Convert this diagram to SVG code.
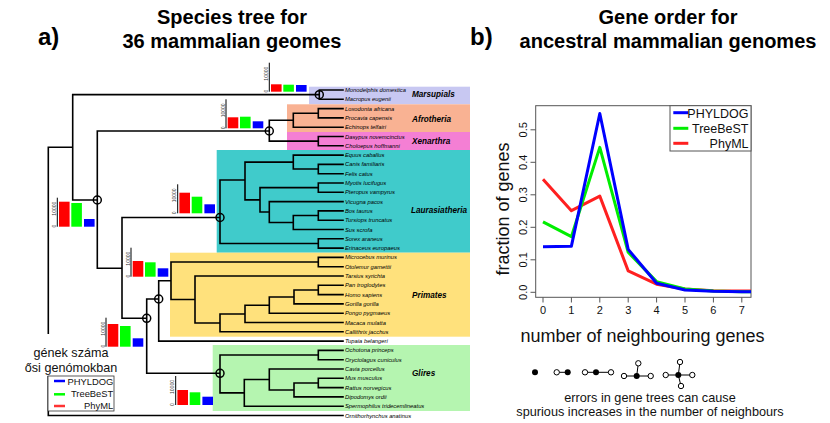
<svg xmlns="http://www.w3.org/2000/svg" width="830" height="423" viewBox="0 0 830 423">
<style>
.br{fill:none;stroke:#000;stroke-width:1.6;stroke-linecap:square}
.nd{fill:none;stroke:#000;stroke-width:1.5}
.tip{font-family:"Liberation Sans",Arial,sans-serif;font-style:italic;font-size:5.8px;fill:#000}
.cl{font-family:"Liberation Sans",Arial,sans-serif;font-style:italic;font-weight:bold;font-size:8.2px;fill:#000}
.ttl{font-family:"Liberation Sans",Arial,sans-serif;font-weight:bold;font-size:20px;fill:#000;text-anchor:middle}
.lab{font-family:"Liberation Sans",Arial,sans-serif;font-weight:bold;font-size:24px;fill:#000}
.ax{font-family:"Liberation Sans",Arial,sans-serif;font-size:5px;fill:#333;text-anchor:middle}
.sans{font-family:"Liberation Sans",Arial,sans-serif;fill:#111}
.r{fill:#ff0000}.g{fill:#00ff00}.b{fill:#0000ff}
.axl{stroke:#000;stroke-width:1}
.op{fill:#fff;stroke:#000;stroke-width:1}
.fd{fill:#000}
</style>

<text class="lab" x="38" y="45">a)</text>
<text class="ttl" x="232" y="24">Species tree for</text>
<text class="ttl" x="232" y="48">36 mammalian geomes</text>
<text class="lab" x="470" y="45">b)</text>
<text class="ttl" x="668" y="24">Gene order for</text>
<text class="ttl" x="668" y="48">ancestral mammalian genomes</text>

<g id="clade-boxes">
<rect x="309" y="86.7" width="161" height="17.6" fill="#c8c8f2"/>
<rect x="287" y="104.3" width="183" height="27.7" fill="#f9b293"/>
<rect x="287" y="132" width="183" height="18" fill="#f47fd4"/>
<rect x="216.7" y="150" width="253.3" height="102.7" fill="#40cbcb"/>
<rect x="170" y="252.7" width="300" height="84" fill="#ffe17c"/>
<rect x="212.7" y="345" width="257.3" height="66" fill="#b5f5b0"/>
</g>

<g id="branches">
<path class="br" d="M48.3,147.3V415.5M48.3,147.3H72.7M48.3,415.5H343
M72.7,94.65V200M72.7,94.65H319.3M72.7,200H97.3
M319.3,90V99.3M319.3,90H343M319.3,99.3H343
M97.3,131V268.3M97.3,131H269.3M97.3,268.3H122
M269.3,120.2V141.15M269.3,120.2H293.3M269.3,141.15H318.3
M293.3,113.25V127.2M293.3,113.25H318.3M293.3,127.2H343
M318.3,108.6V117.9M318.3,108.6H343M318.3,117.9H343
M318.3,136.5V145.8M318.3,136.5H343M318.3,145.8H343
M122,217.5V318.3M122,217.5H220M122,318.3H146.7
M220,180V243.45M220,180H245M220,243.45H318.3
M318.3,238.8V248.1M318.3,238.8H343M318.3,248.1H343
M245,162.1V199.85M245,162.1H293.3M245,199.85H260
M293.3,155.1V169.05M293.3,155.1H343M293.3,169.05H318.3
M318.3,164.4V173.7M318.3,164.4H343M318.3,173.7H343
M260,187.65V212.05M260,187.65H318.3M260,212.05H269.3
M318.3,183V192.3M318.3,183H343M318.3,192.3H343
M269.3,201.6V222.5M269.3,201.6H343M269.3,222.5H293.3
M293.3,215.55V229.5M293.3,215.55H318.3M293.3,229.5H343
M318.3,210.9V220.2M318.3,210.9H343M318.3,220.2H343
M146.7,299V373.3M146.7,299H158.7M146.7,373.3H220
M158.7,280.75V341.1M158.7,280.75H171M158.7,341.1H343
M171,262.05V299.5M171,262.05H318.3M171,299.5H195
M318.3,257.4V266.7M318.3,257.4H343M318.3,266.7H343
M195,276V323M195,276H343M195,323H220
M220,314V331.8M220,314H245M220,331.8H343
M245,305.2V322.5M245,305.2H269.3M245,322.5H343
M269.3,297V313.2M269.3,297H294M269.3,313.2H343
M294,289.95V303.9M294,289.95H318.3M294,303.9H343
M318.3,285.3V294.6M318.3,285.3H343M318.3,294.6H343
M220,355.05V392.85M220,355.05H318.3M220,392.85H244.3
M318.3,350.4V359.7M318.3,350.4H343M318.3,359.7H343
M244.3,379.5V406.2M244.3,379.5H269.3M244.3,406.2H343
M269.3,369V389.95M269.3,369H343M269.3,389.95H294
M294,382.95V396.9M294,382.95H318.3M294,396.9H343
M318.3,378.3V387.6M318.3,378.3H343M318.3,387.6H343"/>
</g>

<g id="node-marks">
<circle class="nd" cx="319.3" cy="94.65" r="4"/>
<circle class="nd" cx="269.3" cy="131" r="4"/>
<circle class="nd" cx="97.3" cy="200" r="4"/>
<circle class="nd" cx="220" cy="217.5" r="4"/>
<circle class="nd" cx="158.7" cy="299" r="4"/>
<circle class="nd" cx="146.7" cy="318.3" r="4"/>
<circle class="nd" cx="220" cy="373.3" r="4"/>
</g>

<rect x="22" y="334" width="98" height="42" fill="#fff"/>

<g id="chart-marsupials" transform="translate(269.3,91.7)">
<line class="axl" x1="0" y1="0" x2="0" y2="-29"/>
<rect class="r" x="1.7" y="-7.4" width="10.6" height="7.4"/>
<rect class="g" x="14" y="-7" width="10.6" height="7"/>
<rect class="b" x="26.7" y="-6.7" width="10.6" height="6.7"/>
<text class="ax" transform="translate(-1.5,-0.5) rotate(-90)">0</text>
<text class="ax" transform="translate(-1.5,-18) rotate(-90)">10000</text>
</g>
<g id="chart-atlantogenata" transform="translate(226,128.3)">
<line class="axl" x1="0" y1="0" x2="0" y2="-29"/>
<rect class="r" x="1.7" y="-11" width="10.6" height="11"/>
<rect class="g" x="14" y="-11.6" width="10.6" height="11.6"/>
<rect class="b" x="26.7" y="-7" width="10.6" height="7"/>
<text class="ax" transform="translate(-1.5,-0.5) rotate(-90)">0</text>
<text class="ax" transform="translate(-1.5,-18) rotate(-90)">10000</text>
</g>
<g id="chart-laurasiatheria" transform="translate(177.7,213.3)">
<line class="axl" x1="0" y1="0" x2="0" y2="-29"/>
<rect class="r" x="1.7" y="-20.6" width="10.6" height="20.6"/>
<rect class="g" x="14" y="-16.6" width="10.6" height="16.6"/>
<rect class="b" x="26.7" y="-9" width="10.6" height="9"/>
<text class="ax" transform="translate(-1.5,-0.5) rotate(-90)">0</text>
<text class="ax" transform="translate(-1.5,-18) rotate(-90)">10000</text>
</g>
<g id="chart-eutheria" transform="translate(57.3,226.7)">
<line class="axl" x1="0" y1="0" x2="0" y2="-29"/>
<rect class="r" x="1.7" y="-25" width="10.6" height="25"/>
<rect class="g" x="14" y="-23.7" width="10.6" height="23.7"/>
<rect class="b" x="26.7" y="-7.7" width="10.6" height="7.7"/>
<text class="ax" transform="translate(-1.5,-0.5) rotate(-90)">0</text>
<text class="ax" transform="translate(-1.5,-18) rotate(-90)">10000</text>
</g>
<g id="chart-primates" transform="translate(131,276.7)">
<line class="axl" x1="0" y1="0" x2="0" y2="-29"/>
<rect class="r" x="1.7" y="-15.7" width="10.6" height="15.7"/>
<rect class="g" x="14" y="-14.4" width="10.6" height="14.4"/>
<rect class="b" x="26.7" y="-8.4" width="10.6" height="8.4"/>
<text class="ax" transform="translate(-1.5,-0.5) rotate(-90)">0</text>
<text class="ax" transform="translate(-1.5,-18) rotate(-90)">10000</text>
</g>
<g id="chart-euarchontoglires" transform="translate(106,346.7)">
<line class="axl" x1="0" y1="0" x2="0" y2="-29"/>
<rect class="r" x="1.7" y="-22.7" width="10.6" height="22.7"/>
<rect class="g" x="14" y="-20.7" width="10.6" height="20.7"/>
<rect class="b" x="26.7" y="-8.4" width="10.6" height="8.4"/>
<text class="ax" transform="translate(-1.5,-0.5) rotate(-90)">0</text>
<text class="ax" transform="translate(-1.5,-18) rotate(-90)">10000</text>
</g>
<g id="chart-glires" transform="translate(175.7,405)">
<line class="axl" x1="0" y1="0" x2="0" y2="-29"/>
<rect class="r" x="1.7" y="-15" width="10.6" height="15"/>
<rect class="g" x="14" y="-12.7" width="10.6" height="12.7"/>
<rect class="b" x="26.7" y="-8.3" width="10.6" height="8.3"/>
<text class="ax" transform="translate(-1.5,-0.5) rotate(-90)">0</text>
<text class="ax" transform="translate(-1.5,-18) rotate(-90)">10000</text>
</g>

<g id="tips">
<text class="tip" x="345" y="92">Monodelphis domestica</text>
<text class="tip" x="345" y="101.3">Macropus eugenii</text>
<text class="tip" x="345" y="110.6">Loxodonta africana</text>
<text class="tip" x="345" y="119.9">Procavia capensis</text>
<text class="tip" x="345" y="129.2">Echinops telfairi</text>
<text class="tip" x="345" y="138.5">Dasypus novemcinctus</text>
<text class="tip" x="345" y="147.8">Choloepus hoffmanni</text>
<text class="tip" x="345" y="157.1">Equus caballus</text>
<text class="tip" x="345" y="166.4">Canis familiaris</text>
<text class="tip" x="345" y="175.7">Felis catus</text>
<text class="tip" x="345" y="185">Myotis lucifugus</text>
<text class="tip" x="345" y="194.3">Pteropus vampyrus</text>
<text class="tip" x="345" y="203.6">Vicugna pacos</text>
<text class="tip" x="345" y="212.9">Bos taurus</text>
<text class="tip" x="345" y="222.2">Tursiops truncatus</text>
<text class="tip" x="345" y="231.5">Sus scrofa</text>
<text class="tip" x="345" y="240.8">Sorex araneus</text>
<text class="tip" x="345" y="250.1">Erinaceus europaeus</text>
<text class="tip" x="345" y="259.4">Microcebus murinus</text>
<text class="tip" x="345" y="268.7">Otolemur garnettii</text>
<text class="tip" x="345" y="278">Tarsius syrichta</text>
<text class="tip" x="345" y="287.3">Pan troglodytes</text>
<text class="tip" x="345" y="296.6">Homo sapiens</text>
<text class="tip" x="345" y="305.9">Gorilla gorilla</text>
<text class="tip" x="345" y="315.2">Pongo pygmaeus</text>
<text class="tip" x="345" y="324.5">Macaca mulatta</text>
<text class="tip" x="345" y="333.8">Callithrix jacchus</text>
<text class="tip" x="345" y="343.1">Tupaia belangeri</text>
<text class="tip" x="345" y="352.4">Ochotona princeps</text>
<text class="tip" x="345" y="361.7">Oryctolagus cuniculus</text>
<text class="tip" x="345" y="371">Cavia porcellus</text>
<text class="tip" x="345" y="380.3">Mus musculus</text>
<text class="tip" x="345" y="389.6">Rattus norvegicus</text>
<text class="tip" x="345" y="398.9">Dipodomys ordii</text>
<text class="tip" x="345" y="408.2">Spermophilus tridecemlineatus</text>
<text class="tip" x="345" y="417.5">Ornithorhynchus anatinus</text>
</g>

<g id="clade-labels">
<text class="cl" x="412" y="97">Marsupials</text>
<text class="cl" x="412" y="122">Afrotheria</text>
<text class="cl" x="412" y="144">Xenarthra</text>
<text class="cl" x="411" y="213">Laurasiatheria</text>
<text class="cl" x="412" y="298">Primates</text>
<text class="cl" x="412" y="376">Glires</text>
</g>

<g id="legend-a">
<text class="sans" x="71" y="357" font-size="12.6" text-anchor="middle">gének száma</text>
<text class="sans" x="71" y="372" font-size="12.6" text-anchor="middle">ősi genómokban</text>
<rect x="48" y="376" width="66" height="35" fill="#fff" stroke="#333" stroke-width="0.8"/>
<line x1="54" y1="381" x2="65" y2="381" stroke="#0000ff" stroke-width="2.5"/>
<line x1="54" y1="394.3" x2="65" y2="394.3" stroke="#00ff00" stroke-width="2.5"/>
<line x1="54" y1="406" x2="65" y2="406" stroke="#ff3333" stroke-width="2.5"/>
<text class="sans" x="113.3" y="385.3" font-size="9.4" text-anchor="end">PHYLDOG</text>
<text class="sans" x="113.3" y="397.3" font-size="9.4" text-anchor="end">TreeBeST</text>
<text class="sans" x="113.3" y="409" font-size="9.4" text-anchor="end">PhyML</text>
</g>

<g id="plot-b">
<rect x="535.7" y="105.7" width="215.3" height="191.6" fill="none" stroke="#555" stroke-width="1"/>
<path d="M530.5,292.3H535.7M530.5,259.8H535.7M530.5,227.3H535.7M530.5,194.8H535.7M530.5,162.3H535.7M530.5,129.8H535.7" stroke="#555" stroke-width="1"/>
<path d="M543,297.3V302.5M571.4,297.3V302.5M599.8,297.3V302.5M628.2,297.3V302.5M656.6,297.3V302.5M685,297.3V302.5M713.4,297.3V302.5M741.8,297.3V302.5" stroke="#555" stroke-width="1"/>
<g class="sans" font-size="11" text-anchor="middle">
<text transform="translate(526.5,292.3) rotate(-90)">0.0</text>
<text transform="translate(526.5,259.8) rotate(-90)">0.1</text>
<text transform="translate(526.5,227.3) rotate(-90)">0.2</text>
<text transform="translate(526.5,194.8) rotate(-90)">0.3</text>
<text transform="translate(526.5,162.3) rotate(-90)">0.4</text>
<text transform="translate(526.5,129.8) rotate(-90)">0.5</text>
<text x="543" y="314">0</text>
<text x="571.4" y="314">1</text>
<text x="599.8" y="314">2</text>
<text x="628.2" y="314">3</text>
<text x="656.6" y="314">4</text>
<text x="685" y="314">5</text>
<text x="713.4" y="314">6</text>
<text x="741.8" y="314">7</text>
</g>
<text class="sans" transform="translate(509,209) rotate(-90)" font-size="18" text-anchor="middle">fraction of genes</text>
<text class="sans" x="642.5" y="341.7" font-size="18" text-anchor="middle">number of neighbouring genes</text>
<g fill="none" stroke-width="3" stroke-linejoin="round">
<polyline stroke="#ff2020" points="543,179.2 571.4,210.7 599.8,196.1 628.2,270.85 656.6,284.2 685,289.05 713.4,290.7 741.8,291 751,291.1"/>
<polyline stroke="#00ee00" points="543,221.8 571.4,236.7 599.8,147.35 628.2,252.3 656.6,281.6 685,289.05 713.4,291 741.8,291.65 751,291.7"/>
<polyline stroke="#0000ff" points="543,246.8 571.4,246.15 599.8,113.55 628.2,249.4 656.6,283.2 685,290 713.4,291.3 741.8,291.65 751,291.8"/>
</g>
<rect x="670" y="105.7" width="81" height="45.3" fill="#fff" stroke="#555" stroke-width="1"/>
<line x1="673.3" y1="112.7" x2="688.3" y2="112.7" stroke="#0000ff" stroke-width="3"/>
<line x1="673.3" y1="128.3" x2="688.3" y2="128.3" stroke="#00ee00" stroke-width="3"/>
<line x1="673.3" y1="143.3" x2="688.3" y2="143.3" stroke="#ff2020" stroke-width="3"/>
<text class="sans" x="748.5" y="118.3" font-size="12.5" text-anchor="end">PHYLDOG</text>
<text class="sans" x="748.5" y="132.7" font-size="12.5" text-anchor="end">TreeBeST</text>
<text class="sans" x="748.5" y="148" font-size="12.5" text-anchor="end">PhyML</text>
</g>

<g id="icons">
<path d="M556.7,372.3H567.7M585,372.3H611M624,376H650.7M636.7,376L638.3,363.3M665.7,375H692.3M678.3,375L680,362M678.3,375L681,386" stroke="#000" stroke-width="1"/>
<circle class="fd" cx="535" cy="372.3" r="3"/>
<circle class="op" cx="556.7" cy="372.3" r="2.7"/>
<circle class="fd" cx="567.7" cy="372.3" r="3"/>
<circle class="op" cx="585" cy="372.3" r="2.7"/>
<circle class="fd" cx="596" cy="372.3" r="3"/>
<circle class="op" cx="611" cy="372.3" r="2.7"/>
<circle class="op" cx="624" cy="376" r="2.7"/>
<circle class="fd" cx="636.7" cy="376" r="3"/>
<circle class="op" cx="650.7" cy="376" r="2.7"/>
<circle class="op" cx="638.3" cy="363.3" r="2.7"/>
<circle class="op" cx="665.7" cy="375" r="2.7"/>
<circle class="fd" cx="678.3" cy="375" r="3"/>
<circle class="op" cx="692.3" cy="375" r="2.7"/>
<circle class="op" cx="680" cy="362" r="2.7"/>
<circle class="op" cx="681" cy="386" r="2.7"/>
<text class="sans" x="650" y="401.7" font-size="12.7" text-anchor="middle">errors in gene trees can cause</text>
<text class="sans" x="650" y="415.7" font-size="12.7" text-anchor="middle">spurious increases in the number of neighbours</text>
</g>
</svg>
